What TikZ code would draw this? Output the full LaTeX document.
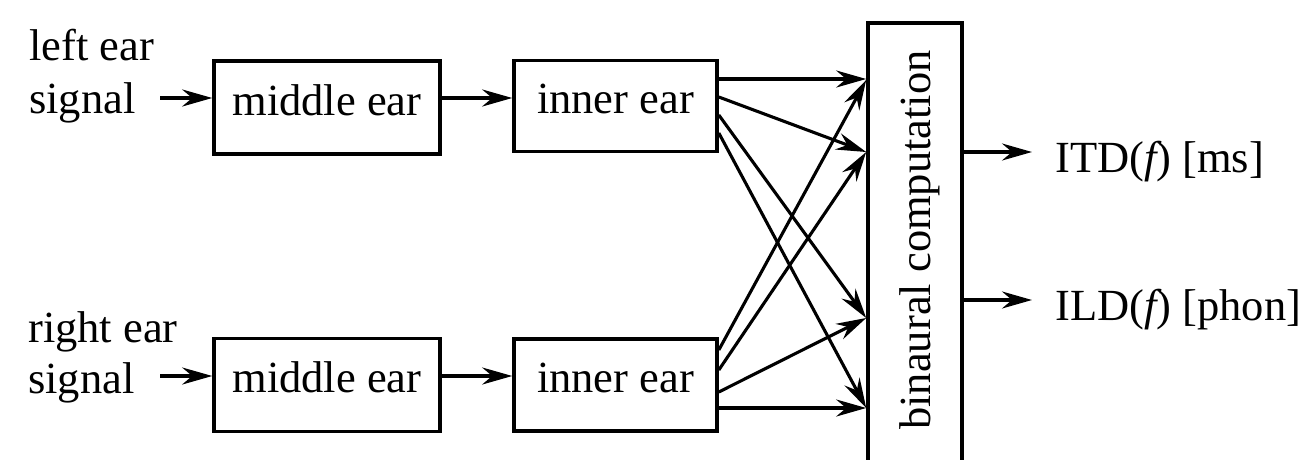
\documentclass[tikz,border=0pt]{standalone}
\usepackage{fontspec}
\setmainfont{Liberation Serif}
\usetikzlibrary{arrows.meta}
\begin{document}
\begin{tikzpicture}[x=1pt,y=-1pt,
  every node/.style={font=\fontsize{44.5}{52}\selectfont, inner sep=0pt},
  box/.style={draw, line width=3.6pt, text height=30pt, text depth=15pt},
  arr/.style={line width=3.1pt, -{Stealth[length=30pt,width=17pt,inset=10pt]}},
]
\useasboundingbox (0,0) rectangle (1303,460);
\clip (0,0) rectangle (1303,460);
\fill[white] (0,0) rectangle (1303,460);

% processing stages
\node[box, minimum width=226, minimum height=93] (lme) at (327,107.5) {middle ear};
\node[box, minimum width=203, minimum height=91] (lie) at (615.5,106) {inner ear};
\node[box, minimum width=226, minimum height=93] (rme) at (327,385) {middle ear};
\node[box, minimum width=203, minimum height=92] (rie) at (615.5,385) {inner ear};

% binaural stage (runs off the lower edge)
\node[draw, line width=3.6pt, minimum width=94, minimum height=470] (bin) at (915,258) {};
\node[rotate=90, anchor=base] (bint) at (930,240) {binaural computation};

% input labels
\node[anchor=base west] (lear) at (29,61) {left ear};
\node[anchor=base west] (lsig) at (29,113) {signal};
\node[anchor=base west] (rear) at (28,342) {right ear};
\node[anchor=base west] (rsig) at (28,393) {signal};

% input chains
\coordinate (lin) at (160,98);
\coordinate (rin) at (160,376);
\draw[arr] (lin) -- (lin -| lme.west);
\draw[arr] (lin -| lme.east) -- (lin -| lie.west);
\draw[arr] (rin) -- (rin -| rme.west);
\draw[arr] (rin -| rme.east) -- (rin -| rie.west);

% cross connections into the binaural stage
\foreach \s/\t in {79/79, 97/152, 115/318, 133/408}
  \draw[arr] (lie.east |- 0,\s) -- (bin.west |- 0,\t);
\foreach \s/\t in {350/80, 370/152, 392/318, 408/408}
  \draw[arr] (rie.east |- 0,\s) -- (bin.west |- 0,\t);

% outputs
\node[anchor=base west] (itd) at (1055,172) {ITD({\itshape f}) [ms]};
\node[anchor=base west] (ild) at (1055,320) {ILD({\itshape f}) [phon]};
\coordinate (itdend) at (1032,152);
\coordinate (ildend) at (1032,300);
\draw[arr] (bin.east |- itdend) -- (itdend);
\draw[arr] (bin.east |- ildend) -- (ildend);
\end{tikzpicture}
\end{document}
